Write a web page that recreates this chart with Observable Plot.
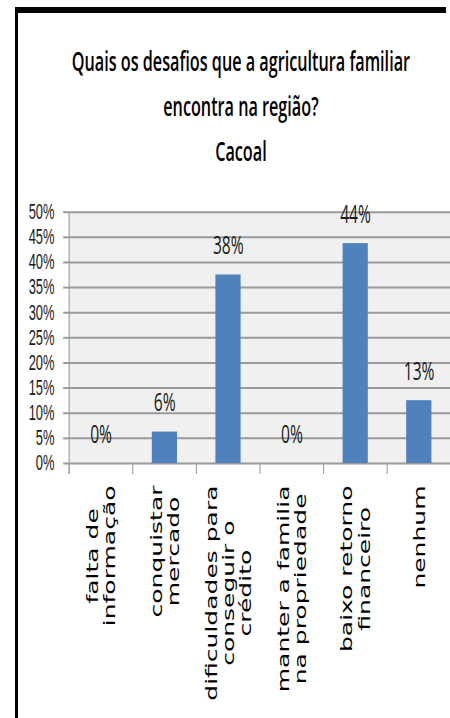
<!DOCTYPE html>
<html><head><meta charset="utf-8">
<script src="https://cdn.jsdelivr.net/npm/d3@7"></script>
<script src="https://cdn.jsdelivr.net/npm/@observablehq/plot@0.6"></script>
<style>
html,body{margin:0;padding:0;background:#fff;overflow:hidden;width:450px;height:718px;}
#frame{position:absolute;left:15px;top:7px;width:428px;height:705px;border-left:3px solid #000;border-top:6px solid #000;pointer-events:none;}
#squish{position:absolute;left:0;top:0;width:760px;height:718px;transform:scaleX(0.6);transform-origin:0 0;}
#title{position:absolute;left:0;top:38px;width:803px;text-align:center;font-family:"Open Sans",sans-serif;font-weight:600;font-size:27px;line-height:45px;color:#000;white-space:nowrap;}
#chart{position:absolute;left:0;top:190px;}
</style></head><body>
<div id="squish"><div id="title"></div><div id="chart"></div></div>
<div id="frame"></div>
<script>
const titleLines = ["Quais os desafios que a agricultura familiar", "encontra na região?", "Cacoal"];
const categories = [
  "falta de\ninformação",
  "conquistar\nmercado",
  "dificuldades para\nconseguir o\ncrédito",
  "manter a familia\nna propriedade",
  "baixo retorno\nfinanceiro",
  "nenhum"
];
const values = [0, 6.25, 37.5, 0, 43.75, 12.5];
const yTicks = [0, 5, 10, 15, 20, 25, 30, 35, 40, 45, 50];

const titleEl = document.getElementById("title");
for (const line of titleLines) {
  const d = document.createElement("div");
  d.textContent = line;
  titleEl.appendChild(d);
}

const data = categories.map((c, i) => ({category: c, value: values[i]}));
const W = 752, H = 528, mL = 113.3, mT = 21.7, mB = 255;
const half = (W - mL) / categories.length / 2;

const chart = Plot.plot({
  width: W, height: H,
  marginLeft: mL, marginRight: 0, marginTop: mT, marginBottom: mB,
  style: {background: "transparent", overflow: "visible"},
  x: {domain: categories, padding: 0, label: null},
  y: {domain: [0, 50], label: null},
  marks: [
    Plot.frame({fill: "#f0f0f0", stroke: null}),
    Plot.gridY(yTicks, {stroke: "#9a9a9a", strokeOpacity: 1, strokeWidth: 2}),
    Plot.axisY(yTicks, {tickSize: 8, tickPadding: 15, tickFormat: d => d + "%", fontSize: 21.5, fontFamily: "Liberation Sans", fill: "#1a1a1a", stroke: "#9a9a9a", strokeWidth: 2, label: null}),
    Plot.ruleX([categories[0]], {dx: -half, stroke: "#9a9a9a", strokeWidth: 1.7, insetBottom: -11}),
    Plot.ruleX(categories, {y1: 0, y2: 0, dx: -half, insetBottom: -11, stroke: "#9a9a9a", strokeWidth: 1.7}),
    Plot.barY(data, {x: "category", y: "value", fill: "#4f81bd", insetLeft: 32, insetRight: 32}),
    Plot.text(data, {x: "category", y: "value", text: d => Math.round(d.value) + "%", dy: -21, lineAnchor: "bottom", fontSize: 26, fontFamily: "Open Sans", fill: "#1a1a1a"}),
    Plot.axisX({tickSize: 0, tickPadding: 22, tickRotate: -90, fontSize: 25, fontFamily: "DejaVu Sans", fill: "#000", lineHeight: 1.15, label: null})
  ]
});
document.getElementById("chart").appendChild(chart);

// center the lines of each rotated x label relative to its longest line
chart.querySelectorAll('g[aria-label="x-axis tick label"] text').forEach(t => {
  const spans = t.querySelectorAll("tspan");
  if (spans.length < 2) return;
  let max = 0;
  spans.forEach(s => { max = Math.max(max, s.getComputedTextLength()); });
  spans.forEach(s => { s.setAttribute("x", -max / 2); s.setAttribute("text-anchor", "middle"); });
});
</script>
</body></html>
